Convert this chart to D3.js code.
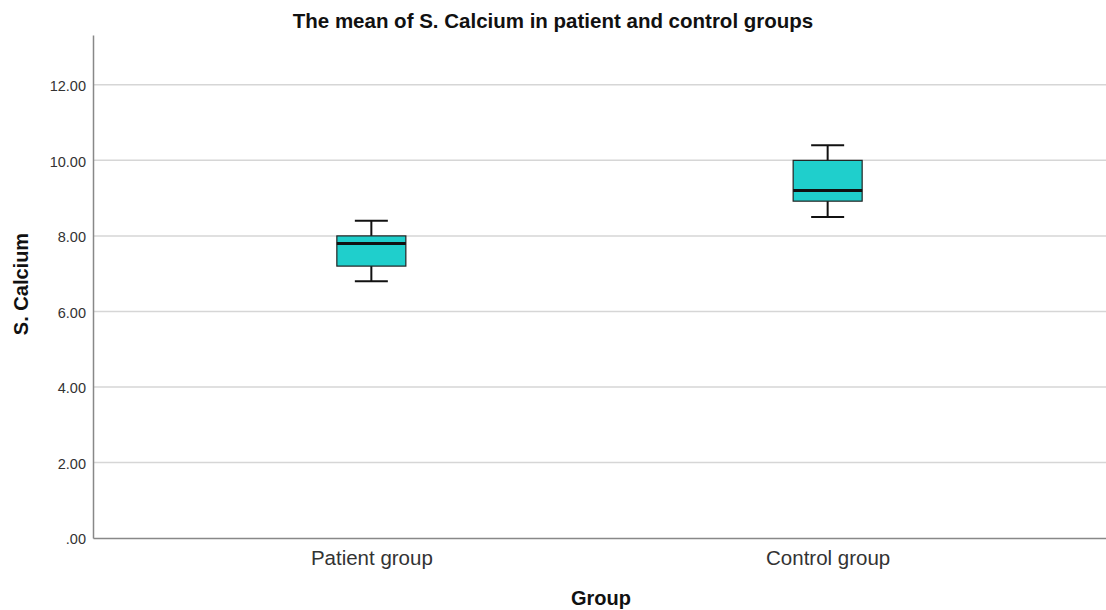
<!DOCTYPE html>
<html><head><meta charset="utf-8">
<script src="https://cdn.jsdelivr.net/npm/d3@7"></script>
<style>body{margin:0;background:#fff;font-family:"Liberation Sans",Arial,sans-serif;}</style>
</head><body><svg id="c" width="1106" height="610"></svg>
<script>
const categories = ["Patient group", "Control group"];
const whiskerLow = [6.8, 8.5];
const q1 = [7.2, 8.92];
const median = [7.8, 9.2];
const q3 = [8.0, 10.0];
const whiskerHigh = [8.4, 10.4];
const yTicks = [0, 2, 4, 6, 8, 10, 12];
const tickLabels = [".00", "2.00", "4.00", "6.00", "8.00", "10.00", "12.00"];

const svg = d3.select("#c");
const x0 = 93, x1 = 1106, yb = 538, yt = 35;
const y = d3.scaleLinear().domain([0, 13.32]).range([yb, yt]);
const x = d3.scalePoint().domain(categories).range([x0, x1]).padding(0.61);

// gridlines
svg.append("g").selectAll("line").data(yTicks.filter(d => d > 0)).join("line")
  .attr("x1", x0).attr("x2", x1).attr("y1", d => y(d)).attr("y2", d => y(d))
  .attr("stroke", "#d6d6d6").attr("stroke-width", 1.5);

// y axis
const yAxis = d3.axisLeft(y).tickValues(yTicks).tickSize(0).tickPadding(7)
  .tickFormat((d, i) => tickLabels[i]);
const gy = svg.append("g").attr("transform", `translate(${x0},0)`).call(yAxis);
gy.select(".domain").attr("stroke", "#888").attr("stroke-width", 1.5);
gy.selectAll("text").attr("font-size", 14.5).attr("fill", "#333").attr("dy", "0.4em")
  .attr("font-family", "Liberation Sans, Arial, sans-serif");

// x axis
const xAxis = d3.axisBottom(x).tickSize(0).tickPadding(12);
const gx = svg.append("g").attr("transform", `translate(0,${yb})`).call(xAxis);
gx.select(".domain").attr("stroke", "#888").attr("stroke-width", 1.5);
gx.selectAll("text").attr("font-size", 20.5).attr("fill", "#333").attr("font-family", "Liberation Sans, Arial, sans-serif");

const bw = 69, cw = 33;
const boxes = svg.append("g").selectAll("g").data(categories).join("g");
boxes.append("line").attr("x1", d => x(d)).attr("x2", d => x(d))
  .attr("y1", (d, i) => y(whiskerLow[i])).attr("y2", (d, i) => y(whiskerHigh[i]))
  .attr("stroke", "#111").attr("stroke-width", 2);
boxes.append("line").attr("x1", d => x(d) - cw / 2).attr("x2", d => x(d) + cw / 2)
  .attr("y1", (d, i) => y(whiskerLow[i])).attr("y2", (d, i) => y(whiskerLow[i]))
  .attr("stroke", "#111").attr("stroke-width", 2);
boxes.append("line").attr("x1", d => x(d) - cw / 2).attr("x2", d => x(d) + cw / 2)
  .attr("y1", (d, i) => y(whiskerHigh[i])).attr("y2", (d, i) => y(whiskerHigh[i]))
  .attr("stroke", "#111").attr("stroke-width", 2);
boxes.append("rect").attr("x", d => x(d) - bw / 2).attr("width", bw)
  .attr("y", (d, i) => y(q3[i])).attr("height", (d, i) => y(q1[i]) - y(q3[i]))
  .attr("fill", "#1fcfcc").attr("stroke", "#222").attr("stroke-width", 1.2);
boxes.append("line").attr("x1", d => x(d) - bw / 2).attr("x2", d => x(d) + bw / 2)
  .attr("y1", (d, i) => y(median[i])).attr("y2", (d, i) => y(median[i]))
  .attr("stroke", "#111").attr("stroke-width", 3);

// title & labels
svg.append("text").attr("x", 553).attr("y", 27.5).attr("text-anchor", "middle")
  .attr("font-size", 20.5).attr("font-weight", "bold").attr("fill", "#111").text("The mean of S. Calcium in patient and control groups");
svg.append("text").attr("x", 601).attr("y", 605).attr("text-anchor", "middle")
  .attr("font-size", 20).attr("font-weight", "bold").attr("fill", "#111").text("Group");
svg.append("text").attr("transform", "translate(28,284) rotate(-90)").attr("text-anchor", "middle")
  .attr("font-size", 20).attr("font-weight", "bold").attr("fill", "#111").text("S. Calcium");
</script></body></html>
